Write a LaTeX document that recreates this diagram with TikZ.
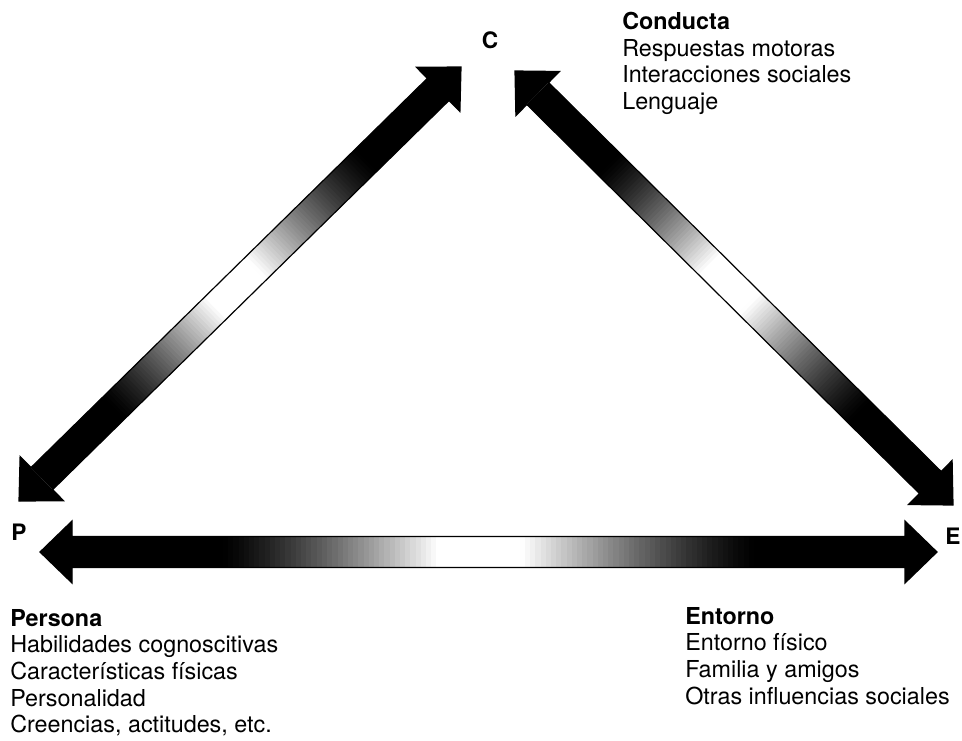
\documentclass[tikz,border=0pt]{standalone}
\usepackage{fontspec}
\setmainfont{TeX Gyre Heros}
\usetikzlibrary{calc}

% double arrow, black at both heads, fading to white in the middle
\newcommand{\gradarrow}[2]{%
  \coordinate (ha) at ($(#1)!24pt!(#2)$);
  \coordinate (hb) at ($(#2)!24pt!(#1)$);
  \foreach \i in {0,...,159}{
    \pgfmathsetmacro\t{(\i+0.5)/160}
    \pgfmathsetmacro\p{100*pow(max(0,min(1,min((\t-0.18)/0.26,(0.82-\t)/0.28))),1.3)}
    \draw[line width=23.25pt, white!\p!black] ($(ha)!{\i/160}!(hb)$) -- ($(ha)!{(\i+1.5)/160}!(hb)$);
  }
  \fill (#1) -- ($(ha)!23.25pt!90:(#2)$) -- ($(ha)!23.25pt!-90:(#2)$) -- cycle;
  \fill (#2) -- ($(hb)!23.25pt!90:(#1)$) -- ($(hb)!23.25pt!-90:(#1)$) -- cycle;
  \draw[line width=0.9pt, line join=miter]
    (#1) -- ($(ha)!23.25pt!90:(#2)$) -- ($(ha)!11.6pt!90:(#2)$)
    -- ($(hb)!11.6pt!-90:(#1)$) -- ($(hb)!23.25pt!-90:(#1)$) -- (#2)
    -- ($(hb)!23.25pt!90:(#1)$) -- ($(hb)!11.6pt!90:(#1)$)
    -- ($(ha)!11.6pt!-90:(#2)$) -- ($(ha)!23.25pt!-90:(#2)$) -- cycle;
}

\tikzset{
  txt/.style={anchor=north west, inner sep=0pt, align=left, font=\fontsize{17.5}{20}\selectfont},
  lbl/.style={inner sep=0pt, font=\fontsize{17}{20}\selectfont\bfseries},
}

\begin{document}
\begin{tikzpicture}[x=0.75pt,y=-0.75pt]
  \useasboundingbox (0,0) rectangle (962,740);
  % corners
  \node[lbl] (C) at (490,40) {C};
  \node[lbl] (P) at (19,532) {P};
  \node[lbl] (E) at (953,536) {E};
  % lists
  \node[txt] (conducta) at (622,12) {\textbf{Conducta}\\Respuestas motoras\\Interacciones sociales\\Lenguaje};
  \node[txt] (persona) at (10,609) {\textbf{Persona}\\Habilidades cognoscitivas\\Características físicas\\Personalidad\\Creencias, actitudes, etc.};
  \node[txt] (entorno) at (685,607) {\textbf{Entorno}\\Entorno físico\\Familia y amigos\\Otras influencias sociales};
  % arrow ends
  \coordinate (PCp) at (19,501);
  \coordinate (PCc) at (461,67);
  \coordinate (CEc) at (515,71);
  \coordinate (CEe) at (953,505);
  \coordinate (PEp) at (40,552);
  \coordinate (PEe) at (937,552);
  \gradarrow{PCp}{PCc}
  \gradarrow{CEc}{CEe}
  \gradarrow{PEp}{PEe}
\end{tikzpicture}
\end{document}
